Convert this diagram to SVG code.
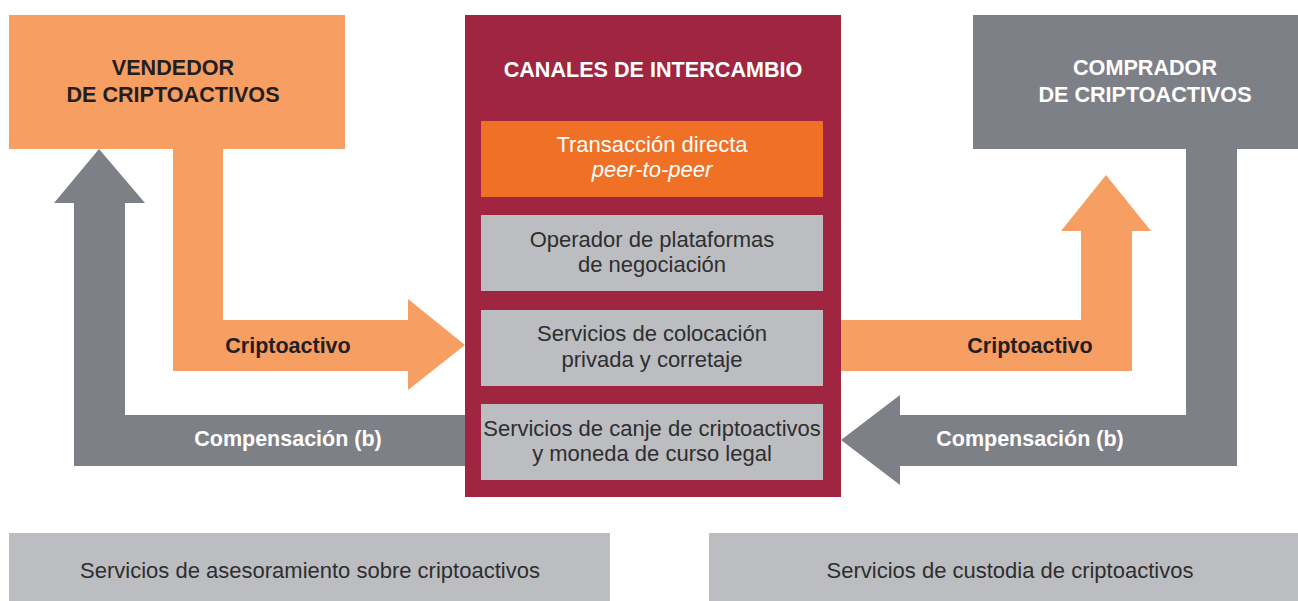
<svg xmlns="http://www.w3.org/2000/svg" width="1298" height="601" viewBox="0 0 1298 601">
<style>
text{font-family:"Liberation Sans",Arial,sans-serif;text-anchor:middle}
.b{font-weight:bold}
.t21{font-size:21.6px}
.t20{font-size:21.5px}
.dark{fill:#231F20}
.white{fill:#FFFFFF}
.reg{font-size:22px}
.inner{fill:#2E2E30;font-size:22px}
.lo{fill:#F79E63}
.gr{fill:#7E8087}
.lg{fill:#BCBDC0}
</style>
<rect width="1298" height="601" fill="#FFFFFF"/>
<g id="connectors">
<polygon class="lo" points="173,149 223,149 223,320 408,320 408,299 465,345 408,390 408,371 173,371"/>
<polygon class="gr" points="465,415 465,466 74,466 74,203 54,203 99,149 145,203 125,203 125,415"/>
<polygon class="lo" points="841,320 1081,320 1081,231 1061,231 1106,175 1151,231 1132,231 1132,371 841,371"/>
<polygon class="gr" points="1186,149 1237,149 1237,466 900,466 900,485 841,440 900,395 900,415 1186,415"/>
<text class="b t20 dark" x="288" y="353">Criptoactivo</text>
<text class="b t20 white" x="288" y="446">Compensación (b)</text>
<text class="b t20 dark" x="1030" y="353">Criptoactivo</text>
<text class="b t20 white" x="1030" y="446">Compensación (b)</text>
</g>
<g id="vendedor">
<rect x="9" y="15" width="336" height="134" fill="#F79E63"/>
<text class="b t21 dark" x="173" y="75">VENDEDOR</text>
<text class="b t21 dark" x="173" y="102">DE CRIPTOACTIVOS</text>
</g>
<g id="comprador">
<rect x="973" y="15" width="325" height="134" fill="#7E8087"/>
<text class="b t21 white" x="1145" y="75">COMPRADOR</text>
<text class="b t21 white" x="1145" y="102">DE CRIPTOACTIVOS</text>
</g>
<g id="canales">
<rect x="465" y="15" width="376" height="482" fill="#9F2540"/>
<text class="b t21 white" x="653" y="77">CANALES DE INTERCAMBIO</text>
</g>
<g id="p2p">
<rect x="481" y="121" width="342" height="76" fill="#F07126"/>
<text class="reg white" x="652" y="152">Transacción directa</text>
<text class="reg white" x="652" y="177" font-style="italic">peer-to-peer</text>
</g>
<g id="operador">
<rect class="lg" x="481" y="215" width="342" height="76"/>
<text class="inner" x="652" y="247">Operador de plataformas</text>
<text class="inner" x="652" y="272">de negociación</text>
</g>
<g id="colocacion">
<rect class="lg" x="481" y="310" width="342" height="76"/>
<text class="inner" x="652" y="341">Servicios de colocación</text>
<text class="inner" x="652" y="367">privada y corretaje</text>
</g>
<g id="canje">
<rect class="lg" x="481" y="404" width="342" height="76"/>
<text class="inner" x="652" y="436">Servicios de canje de criptoactivos</text>
<text class="inner" x="652" y="461">y moneda de curso legal</text>
</g>
<g id="asesoramiento">
<rect class="lg" x="9" y="533" width="601" height="68"/>
<text class="inner" x="310" y="578">Servicios de asesoramiento sobre criptoactivos</text>
</g>
<g id="custodia">
<rect class="lg" x="709" y="533" width="589" height="68"/>
<text class="inner" x="1010" y="578">Servicios de custodia de criptoactivos</text>
</g>
</svg>
